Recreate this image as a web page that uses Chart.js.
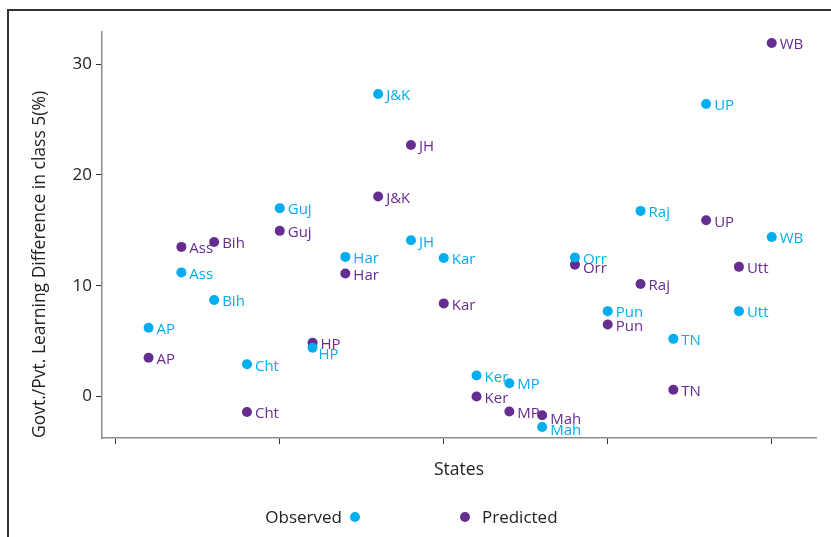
<!DOCTYPE html>
<html>
<head>
<meta charset="utf-8">
<script src="https://cdn.jsdelivr.net/npm/chart.js@4.4.1/dist/chart.umd.min.js"></script>
<style>
  html, body { margin: 0; padding: 0; background: #fff; }
  #wrap { position: relative; width: 831px; height: 537px; }
  #frame { position: absolute; left: 7px; top: 9px; right: 0; bottom: 0;
           border-top: 2px solid #333; border-left: 2px solid #333; pointer-events: none; }
</style>
</head>
<body>
<div id="wrap">
  <canvas id="scatterChart"></canvas>
  <div id="frame"></div>
</div>
<script>
// states along the x axis (position 1..20)
const states = ['AP', 'Ass', 'Bih', 'Cht', 'Guj', 'HP', 'Har', 'J&K', 'JH', 'Kar',
                'Ker', 'MP', 'Mah', 'Orr', 'Pun', 'Raj', 'TN', 'UP', 'Utt', 'WB'];
const observed = [6.2, 11.2, 8.7, 2.9, 17.0, 4.4, 12.6, 27.3, 14.1, 12.5,
                  1.9, 1.2, -2.75, 12.55, 7.7, 16.75, 5.2, 26.4, 7.7, 14.4];
const predicted = [3.5, 13.5, 13.95, -1.4, 14.95, 4.85, 11.1, 18.05, 22.7, 8.4,
                   0.0, -1.35, -1.7, 11.9, 6.5, 10.15, 0.6, 15.9, 11.7, 31.9];
const xTicks = [0, 5, 10, 15, 20];
const yTicks = [0, 10, 20, 30];

const BLUE = '#00aeef';
const PURPLE = '#662d91';
const FONT = "'Open Sans', 'Noto Sans', sans-serif";

const toPoints = vals => vals.map((v, i) => ({ x: i + 1, y: v, label: states[i] }));

// small nudges where labels sit lower in the original
const labelNudge = { 'Observed:HP': [-2, 5], 'Observed:Mah': [0, 2], 'Predicted:Mah': [0, 2], 'Predicted:Orr': [0, 2] };

const pointLabels = {
    id: 'pointLabels',
    afterDatasetsDraw(chart) {
        const ctx = chart.ctx;
        ctx.save();
        ctx.font = '15px ' + FONT;
        ctx.textAlign = 'left';
        ctx.textBaseline = 'middle';
        chart.data.datasets.forEach((ds, di) => {
            const meta = chart.getDatasetMeta(di);
            ctx.fillStyle = ds.backgroundColor;
            meta.data.forEach((el, i) => {
                const n = labelNudge[ds.label + ':' + ds.data[i].label] || [0, 0];
                ctx.fillText(ds.data[i].label, el.x + 8 + n[0], el.y + 2 + n[1]);
            });
        });
        ctx.restore();
    }
};

const bottomLegend = {
    id: 'bottomLegend',
    afterDraw(chart) {
        const ctx = chart.ctx;
        const y = 518;
        ctx.save();
        ctx.font = '17px ' + FONT;
        ctx.textBaseline = 'middle';
        ctx.fillStyle = '#222';
        ctx.textAlign = 'right';
        ctx.fillText(chart.data.datasets[0].label, 342, y);
        ctx.textAlign = 'left';
        ctx.fillText(chart.data.datasets[1].label, 482, y);
        [[355, chart.data.datasets[0].backgroundColor], [465, chart.data.datasets[1].backgroundColor]].forEach(([x, c]) => {
            ctx.beginPath();
            ctx.arc(x, y - 1, 5, 0, Math.PI * 2);
            ctx.fillStyle = c;
            ctx.fill();
        });
        ctx.restore();
    }
};

const ctx = document.getElementById('scatterChart').getContext('2d');
const scatterChart = new Chart(ctx, {
    type: 'scatter',
    data: {
        datasets: [{
            label: 'Observed',
            data: toPoints(observed),
            backgroundColor: BLUE,
            borderColor: BLUE,
            pointRadius: 5,
            pointBorderWidth: 0
        }, {
            label: 'Predicted',
            data: toPoints(predicted),
            backgroundColor: PURPLE,
            borderColor: PURPLE,
            pointRadius: 5,
            pointBorderWidth: 0
        }]
    },
    options: {
        responsive: true,
        maintainAspectRatio: false,
        animation: false,
        layout: { padding: { left: 0, right: 15, top: 32, bottom: 49 } },
        scales: {
            x: {
                min: -0.42,
                max: 21.35,
                afterBuildTicks: scale => { scale.ticks = xTicks.map(v => ({ value: v })); },
                afterFit: scale => { scale.height = 50; },
                ticks: { display: false },
                grid: { drawOnChartArea: false, drawTicks: true, tickLength: 6, tickColor: '#333', tickWidth: 1 },
                border: { display: true, color: '#8c8c8c', width: 1.5 },
                title: { display: true, text: 'States', color: '#222', font: { family: FONT, size: 17.5 }, padding: { top: 0, bottom: 7 } }
            },
            y: {
                min: -3.75,
                max: 32.9,
                afterBuildTicks: scale => { scale.ticks = yTicks.map(v => ({ value: v })); },
                afterFit: scale => { scale.width = 102; },
                ticks: { color: '#222', padding: 4, font: { family: FONT, size: 17 } },
                grid: { drawOnChartArea: false, drawTicks: true, tickLength: 6, tickColor: '#333', tickWidth: 1 },
                border: { display: true, color: '#8c8c8c', width: 1.5 },
                title: { display: true, align: 'start', text: 'Govt./Pvt. Learning Difference in class 5(%)', color: '#222', font: { family: FONT, size: 17.5 }, padding: { top: 30, bottom: 0 } }
            }
        },
        plugins: {
            legend: { display: false },
            tooltip: { enabled: false }
        }
    },
    plugins: [pointLabels, bottomLegend]
});
</script>
</body>
</html>
